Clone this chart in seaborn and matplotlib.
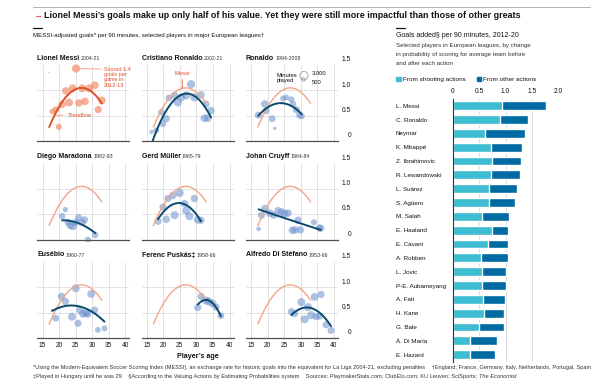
import numpy as np
import pandas as pd
import matplotlib.pyplot as plt
import seaborn as sns
from matplotlib.lines import Line2D
from matplotlib.patches import Patch

# ---- left: MESSI-adjusted goals per 90 minutes by age (age, goals, minutes played) ----
messi_age = [17.0, 17.9, 19.0, 19.9, 20.9, 22.0, 23.0, 24.1, 25.1, 26.0, 27.0, 27.8, 29.1, 30.8, 31.8, 32.9]
messi_goals = [1.35, 0.58, 0.62, 0.28, 0.72, 0.99, 0.76, 1.04, 1.43, 0.75, 1.04, 0.78, 1.04, 1.10, 0.62, 0.80]
messi_mins = [100, 1400, 1900, 1600, 2400, 2400, 2700, 2700, 3000, 2500, 2700, 2500, 2700, 2600, 2300, 2700]

cr_age = [16.4, 17.9, 19.4, 19.9, 20.9, 21.7, 23.4, 24.4, 25.4, 26.9, 28.4, 29.4, 31.4, 32.4, 32.9, 33.4, 34.4]
cr_goals = [0.18, 0.21, 0.57, 0.34, 0.44, 0.85, 0.90, 0.76, 0.86, 0.90, 1.12, 0.86, 0.91, 0.45, 0.73, 0.45, 0.60]
cr_mins = [800, 1500, 1800, 2000, 2200, 2000, 2400, 2800, 2800, 2800, 3000, 2800, 2400, 2600, 2200, 2600, 2400]

r9_age = [17.1, 19.1, 19.5, 21.3, 22.1, 24.6, 25.6, 27.1, 27.6, 28.6, 29.6, 30.2]
r9_goals = [0.51, 0.73, 0.60, 0.44, 0.25, 0.84, 0.86, 0.82, 0.73, 0.62, 0.51, 0.49]
r9_mins = [2200, 2600, 2200, 2000, 500, 1500, 1500, 1700, 1900, 2200, 2200, 1700]

dm_age = [20.9, 21.9, 22.7, 23.4, 24.2, 25.1, 25.9, 27.0, 27.7, 28.7, 30.9]
dm_goals = [0.46, 0.59, 0.34, 0.28, 0.26, 0.34, 0.43, 0.34, 0.39, 0.00, 0.09]
dm_mins = [1800, 1200, 2200, 2600, 2600, 2200, 2200, 2200, 2200, 1400, 1800]

gm_age = [18.4, 19.9, 20.9, 21.4, 22.9, 23.4, 24.9, 26.4, 26.9, 27.9, 29.4, 30.4, 31.4]
gm_goals = [0.36, 0.64, 0.40, 0.81, 0.87, 0.48, 0.92, 0.71, 0.57, 0.46, 0.81, 0.39, 0.38]
gm_mins = [2200, 2200, 2400, 2200, 2400, 2800, 3000, 2400, 2800, 2800, 2400, 2800, 2200]

jc_age = [17.2, 18.1, 19.1, 20.6, 21.8, 23.1, 24.1, 25.1, 26.1, 27.4, 28.2, 29.1, 29.8, 33.9, 35.6, 36.0]
jc_goals = [0.21, 0.48, 0.61, 0.52, 0.48, 0.57, 0.54, 0.51, 0.52, 0.18, 0.19, 0.38, 0.19, 0.34, 0.23, 0.22]
jc_mins = [900, 2200, 2400, 2600, 2200, 2400, 2700, 2700, 2400, 2400, 2600, 2400, 2400, 1600, 2200, 2200]

eu_age = [17.9, 19.0, 20.7, 21.9, 23.9, 25.0, 25.7, 26.2, 27.2, 28.0, 28.7, 29.7, 30.7, 31.7, 33.7]
eu_goals = [0.55, 0.39, 0.82, 0.72, 0.42, 0.98, 0.29, 0.55, 0.48, 0.49, 0.47, 0.87, 0.55, 0.16, 0.19]
eu_mins = [300, 2000, 2400, 2400, 2800, 2800, 2200, 2200, 2800, 2600, 2200, 2800, 2200, 1500, 1500]

fp_age = [30.4, 31.4, 32.9, 33.8, 34.9, 35.9, 37.4]
fp_goals = [0.60, 0.82, 0.74, 0.72, 0.68, 0.61, 0.44]
fp_mins = [2200, 2200, 2800, 2800, 2600, 2200, 2000]

ds_age = [27.1, 28.1, 30.1, 31.1, 32.1, 33.1, 34.1, 34.6, 35.6, 36.1, 37.6, 39.1]
ds_goals = [0.52, 0.48, 0.71, 0.37, 0.61, 0.45, 0.81, 0.42, 0.43, 0.86, 0.26, 0.15]
ds_mins = [2200, 2200, 2800, 2800, 2800, 2800, 2600, 2200, 2200, 2200, 2200, 2200]

names = ["Lionel Messi", "Cristiano Ronaldo", "Ronaldo", "Diego Maradona", "Gerd Müller",
         "Johan Cruyff", "Eusébio", "Ferenc Puskás‡", "Alfredo Di Stéfano"]
years = ["2004-21", "2002-21", "1994-2008", "1982-93", "1965-79", "1964-84", "1960-77", "1958-66", "1953-66"]

# ---- right: goals added per 90 minutes, 2012-20 ----
players = ["L. Messi", "C. Ronaldo", "Neymar", "K. Mbappé", "Z. Ibrahimovic", "R. Lewandowski",
           "L. Suárez", "S. Agüero", "M. Salah", "E. Haaland", "E. Cavani", "A. Robben", "L. Jovic",
           "P-E. Aubameyang", "A. Fati", "H. Kane", "G. Bale", "Á. Di María", "E. Hazard"]
shooting = [0.93, 0.90, 0.62, 0.73, 0.75, 0.72, 0.69, 0.68, 0.56, 0.75, 0.66, 0.53, 0.56, 0.56, 0.58, 0.60, 0.49, 0.32, 0.33]
other = [0.84, 0.53, 0.74, 0.59, 0.55, 0.55, 0.53, 0.50, 0.51, 0.30, 0.39, 0.51, 0.45, 0.45, 0.41, 0.38, 0.48, 0.52, 0.47]

age_ticks = [15, 20, 25, 30, 35, 40]
goal_ticks = [0, 0.5, 1.0, 1.5]
goal_labels = ["0", "0.5", "1.0", "1.5"]
bar_ticks = [0, 0.5, 1.0, 1.5, 2.0]
bar_labels = ["0", "0.5", "1.0", "1.5", "2.0"]

sns.set_theme(style="white")
plt.rcParams['font.family'] = ['Liberation Sans', 'DejaVu Sans']

TEXT = '#121212'
NOTE = '#333333'
GRID = '#d6d6d6'
AXIS = '#505050'
BLUE_PT = '#6b8fcb'
MESSI_PT = '#f28463'
MESSI_LINE = '#df4f2a'
GHOST = '#f2a585'
DARK_LINE = '#0a4a6e'
RED = '#e3120b'
CYAN = '#3ebcd2'
DARK_BAR = '#006ba2'

W, H = 600, 386
fig = plt.figure(figsize=(W / 100, H / 100), dpi=100)


def fx(p):
    return p / W


def fy(p):
    return 1 - p / H


def fit(age, goals, mins):
    # quadratic trendline, seasons weighted by minutes played
    c = np.polyfit(age, goals, 2, w=np.asarray(mins, float))
    xs = np.linspace(min(age), max(age), 80)
    return xs, np.polyval(c, xs), c


messi_x, messi_y, messi_c = fit(messi_age, messi_goals, messi_mins)

panels = [(messi_age, messi_goals, messi_mins), (cr_age, cr_goals, cr_mins), (r9_age, r9_goals, r9_mins),
          (dm_age, dm_goals, dm_mins), (gm_age, gm_goals, gm_mins), (jc_age, jc_goals, jc_mins),
          (eu_age, eu_goals, eu_mins), (fp_age, fp_goals, fp_mins), (ds_age, ds_goals, ds_mins)]

col_left = [37.3, 141.5, 246.0]
row_bottom = [141.0, 239.5, 338.0]
title_y = [58.5, 156.5, 255.0]
ax_w, ax_h = 92, 76

axes = []
for i, (age, goals, mins) in enumerate(panels):
    r, c = divmod(i, 3)
    ax = fig.add_axes([fx(col_left[c]), fy(row_bottom[r]), ax_w / W, ax_h / H])
    axes.append(ax)
    df = pd.DataFrame({'age': age, 'goals': goals, 'minutes': mins})
    messi = i == 0
    sns.scatterplot(data=df, x='age', y='goals', size='minutes', sizes=(0, 36), size_norm=(0, 3000),
                    color=MESSI_PT if messi else BLUE_PT, alpha=0.65 if messi else 0.55,
                    edgecolor='none', linewidth=0, legend=False, ax=ax, clip_on=False, zorder=2)
    if not messi:
        ax.plot(messi_x, messi_y, color=GHOST, lw=1.0, zorder=3)
    xs, ys, _ = fit(age, goals, mins)
    ax.plot(xs, ys, color=MESSI_LINE if messi else DARK_LINE, lw=1.4, zorder=4)

    ax.set_xlim(13.4, 41.2)
    ax.set_ylim(0, 1.5)
    ax.set_xticks(age_ticks)
    ax.set_yticks([0.5, 1.0])
    ax.grid(True, color=GRID, lw=0.5)
    ax.set_axisbelow(True)
    ax.tick_params(length=0, labelsize=4.8, pad=2.8, colors=TEXT)
    ax.set_yticklabels([])
    if r < 2:
        ax.set_xticklabels([])
    ax.set_xlabel('')
    ax.set_ylabel('')
    for s in ['top', 'left', 'right']:
        ax.spines[s].set_visible(False)
    ax.spines['bottom'].set_color(AXIS)
    ax.spines['bottom'].set_linewidth(0.9)
    ax.spines['bottom'].set_zorder(5)

    if c == 2:
        for v, lab in zip(goal_ticks, goal_labels):
            ax.annotate(lab, xy=(1, v), xycoords=('axes fraction', 'data'), xytext=(9.3, 1.2),
                        textcoords='offset points', ha='right', va='bottom', fontsize=4.8, color=TEXT,
                        annotation_clip=False)

    t = fig.text(fx(col_left[c]), fy(title_y[r]), names[i], fontsize=5.0, fontweight='bold',
                 color=TEXT, va='center', ha='left')
    ax.annotate(years[i], xy=(1, 0.1), xycoords=t, xytext=(1.0, 0), textcoords='offset points',
                fontsize=3.8, color=NOTE, va='bottom', ha='left')

# annotations on the Messi and Cristiano Ronaldo panels
ax = axes[0]
top_i = int(np.argmax(messi_goals))
ax.annotate("Scored 1.4\ngoals per\ngame in\n2012-13", xy=(messi_age[top_i] + 0.8, messi_goals[top_i]),
            xytext=(33.5, messi_goals[top_i] + 0.03), ha='left', va='top', fontsize=4.0,
            linespacing=1.05, color=MESSI_LINE,
            arrowprops=dict(arrowstyle='-', color=GHOST, lw=0.7, shrinkA=0, shrinkB=0, relpos=(0, 0.9)))
ty = np.polyval(messi_c, 18.6)
ax.annotate("Trendline", xy=(18.6, ty), xytext=(22.6, ty), ha='left', va='center', fontsize=4.2,
            color=MESSI_LINE,
            arrowprops=dict(arrowstyle='-', color=GHOST, lw=0.7, shrinkA=1, shrinkB=0))
ax = axes[1]
ax.annotate("Messi", xy=(25.7, np.polyval(messi_c, 25.7)), xytext=(25.7, 1.29), ha='center', va='bottom',
            fontsize=4.2, color=MESSI_LINE,
            arrowprops=dict(arrowstyle='-', color=MESSI_LINE, lw=0.6, shrinkA=0.5, shrinkB=0))

# minutes played key on the Ronaldo panel
ax = axes[2]
ax.scatter([0.63], [0.86], s=36, transform=ax.transAxes, facecolor='none', edgecolor='#8c8c8c',
           lw=0.5, clip_on=False, zorder=6)
ax.scatter([0.625], [0.81], s=6, transform=ax.transAxes, facecolor='none', edgecolor='#8c8c8c',
           lw=0.5, clip_on=False, zorder=6)
ax.text(0.33, 0.83, "Minutes\nplayed", transform=ax.transAxes, fontsize=4.2, color=TEXT,
        ha='left', va='center', linespacing=1.0)
ax.text(0.72, 0.895, "3,000", transform=ax.transAxes, fontsize=4.2, color=TEXT, ha='left', va='center')
ax.text(0.72, 0.775, "500", transform=ax.transAxes, fontsize=4.2, color=TEXT, ha='left', va='center')

fig.text(fx(198), fy(357), "Player’s age", fontsize=5.1, fontweight='bold', color=TEXT,
         ha='center', va='center')

# ---- bar chart ----
bar_top, bar_bottom = 98.8, 361.6
bax = fig.add_axes([fx(452.7), fy(bar_bottom), 105.6 / W, (bar_bottom - bar_top) / H])
bars = pd.DataFrame({'player': players, 'shooting': shooting, 'other': other})
bars['total'] = bars['shooting'] + bars['other']
sns.barplot(data=bars, y='player', x='total', color=DARK_BAR, saturation=1, width=0.64,
            orient='h', ax=bax, zorder=2)
sns.barplot(data=bars, y='player', x='shooting', color=CYAN, saturation=1, width=0.64,
            orient='h', ax=bax, zorder=3)
bax.set_xlim(0, 2.0)
bax.set_xticks(bar_ticks)
bax.set_xticklabels(bar_labels)
bax.xaxis.tick_top()
bax.grid(True, axis='x', color=GRID, lw=0.6)
bax.set_axisbelow(True)
bax.tick_params(axis='x', length=0, labelsize=4.8, pad=2.8, colors=TEXT)
bax.tick_params(axis='y', length=0, labelsize=4.5, pad=41, colors=TEXT)
for lab in bax.get_yticklabels():
    lab.set_horizontalalignment('left')
bax.set_xlabel('')
bax.set_ylabel('')
for s in ['top', 'right', 'bottom']:
    bax.spines[s].set_visible(False)
bax.spines['left'].set_color('#333333')
bax.spines['left'].set_linewidth(0.8)
bax.spines['left'].set_zorder(5)

handles = [Patch(color=CYAN, label='From shooting actions'), Patch(color=DARK_BAR, label='From other actions')]
fig.legend(handles=handles, ncol=2, loc='center left', bbox_to_anchor=(fx(396.2), fy(79.3)),
           frameon=False, fontsize=4.6, handlelength=0.7, handleheight=0.7, handletextpad=0.35,
           columnspacing=1.7, borderpad=0, borderaxespad=0, labelcolor=TEXT)

# ---- titles, rules and notes ----
fig.add_artist(Line2D([fx(33), fx(590)], [fy(7), fy(7)], color='#b5b5b5', lw=0.7))
fig.add_artist(Line2D([fx(33), fx(42)], [fy(28), fy(28)], color=TEXT, lw=0.9))
fig.add_artist(Line2D([fx(395.7), fx(405)], [fy(28), fy(28)], color=TEXT, lw=0.9))

fig.text(fx(33), fy(16), "→", fontsize=6.4, fontweight='bold', color=RED, va='center', ha='left')
fig.text(fx(44), fy(16), "Lionel Messi’s goals make up only half of his value. Yet they were still more "
         "impactful than those of other greats", fontsize=6.4, fontweight='bold', color=TEXT,
         va='center', ha='left')
fig.text(fx(33), fy(36), "MESSI-adjusted goals* per 90 minutes, selected players in major European leagues†",
         fontsize=4.4, color=TEXT, va='center', ha='left')
fig.text(fx(395.7), fy(35.7), "Goals added§ per 90 minutes, 2012-20", fontsize=5.0, color=TEXT,
         va='center', ha='left')
for yy, line in zip([45.0, 54.3, 63.3], ["Selected players in European leagues, by change",
                                         "in probability of scoring for average team before",
                                         "and after each action"]):
    fig.text(fx(395.7), fy(yy), line, fontsize=4.4, color=NOTE, va='center', ha='left')

fig.text(fx(33), fy(367.5), "*Using the Modern-Equivalent Soccer Scoring Index (MESSI), an exchange rate for "
         "historic goals into the equivalent for La Liga 2004-21, excluding penalties    †England, France, "
         "Germany, Italy, Netherlands, Portugal, Spain", fontsize=4.05, color=NOTE, va='center', ha='left')
src = fig.text(fx(33), fy(376.5), "‡Played in Hungary until he was 29    §According to the Valuing Actions "
               "by Estimating Probabilities system    Sources: PlaymakerStats.com; ClubElo.com; KU Leuven; "
               "SciSports;", fontsize=4.05, color=NOTE, va='center', ha='left')
bax.annotate("The Economist", xy=(1, 0), xycoords=src, xytext=(1.2, 0), textcoords='offset points',
             fontsize=4.05, color=NOTE, style='italic', va='bottom', ha='left', annotation_clip=False)

fig.savefig("out.png", dpi=100, facecolor='white')
